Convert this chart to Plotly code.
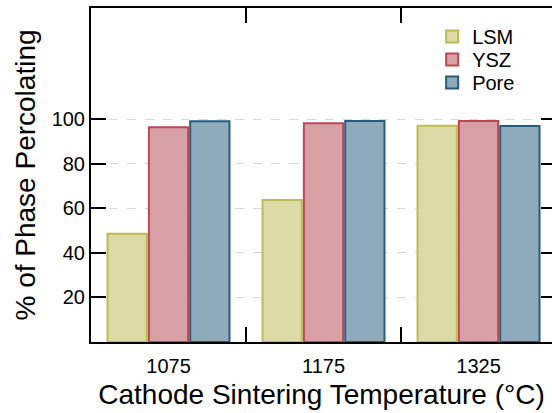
import plotly.graph_objects as go

categories = ["1075", "1175", "1325"]
lsm = [48.6, 63.8, 97.1]
ysz = [96.5, 98.2, 99.2]
pore = [99.1, 99.2, 97.0]
series_names = ["LSM", "YSZ", "Pore"]
y_ticks = [20, 40, 60, 80, 100]

fills = ["#dcdba8", "#d6a0a4", "#8fabbb"]
edges = ["#bdbb55", "#bb4853", "#265d7c"]
legend_ids = ["legend", "legend2", "legend3"]

fig = go.Figure()
for name, vals, fc, ec, lg in zip(series_names, [lsm, ysz, pore], fills, edges, legend_ids):
    fig.add_trace(go.Bar(x=categories, y=vals, name=name, legend=lg,
                         marker=dict(color=fc, line=dict(color=ec, width=2))))

# invisible trace for mirrored right ticks
fig.add_trace(go.Scatter(x=categories, y=lsm, yaxis="y2", mode="markers",
                         marker=dict(opacity=0), showlegend=False, hoverinfo="skip"))

font = "Liberation Sans, Arial, sans-serif"

def leg(y):
    return dict(x=0.74, y=y, xanchor="left", yanchor="top",
                font=dict(size=20, family=font), bgcolor="rgba(0,0,0,0)",
                itemwidth=30)

fig.update_layout(
    width=552, height=413,
    margin=dict(l=91, r=0, t=8, b=71),
    paper_bgcolor="white", plot_bgcolor="white",
    barmode="group", bargap=0.2, bargroupgap=0.05,
    font=dict(family=font, color="black"),
    showlegend=True,
    legend=leg(0.973), legend2=leg(0.904), legend3=leg(0.835),
    xaxis=dict(
        type="category", range=[-0.5, 2.474],
        tickson="boundaries", ticks="inside", ticklen=15, tickwidth=2, tickcolor="black",
        showline=True, linecolor="black", linewidth=2, mirror="ticks",
        showgrid=False, tickfont=dict(size=20), ticklabelstandoff=5,
        title=dict(text="Cathode Sintering Temperature (°C)", font=dict(size=28), standoff=8),
    ),
    yaxis=dict(
        range=[0, 150], tickvals=y_ticks, ticks="inside", ticklen=15, tickwidth=2,
        tickcolor="black", showline=True, linecolor="black", linewidth=2,
        showgrid=True, gridcolor="#d9d9d9", griddash="dash", gridwidth=1,
        tickfont=dict(size=20), zeroline=False,
        title=dict(text="% of Phase Percolating", font=dict(size=28), standoff=8),
    ),
    yaxis2=dict(
        range=[0, 150], tickvals=y_ticks, overlaying="y", side="right",
        ticks="inside", ticklen=11, tickwidth=2, tickcolor="black",
        showline=False, showgrid=False, showticklabels=False, zeroline=False,
    ),
)

fig.write_html("out.html")
